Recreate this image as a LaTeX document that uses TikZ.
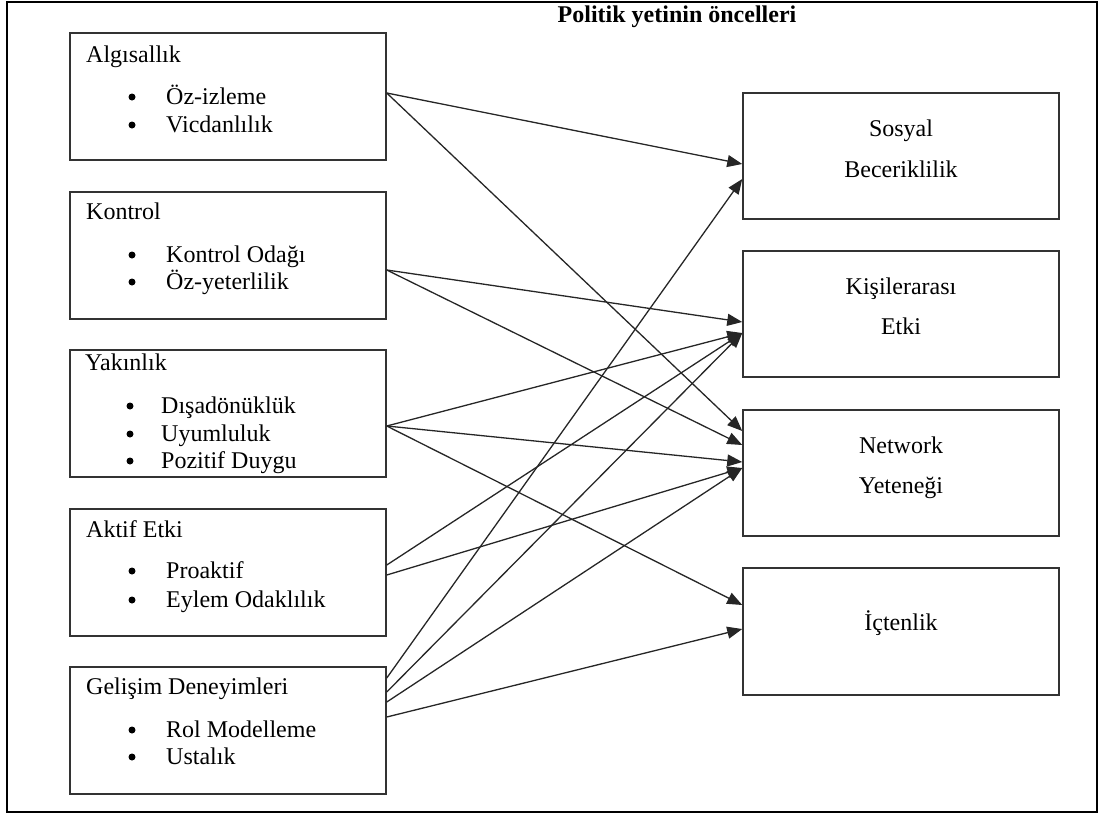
\documentclass[tikz,border=0pt]{standalone}
\usepackage{fontspec}
\setmainfont{Liberation Serif}
\usetikzlibrary{arrows.meta}

\begin{document}
\begin{tikzpicture}[x=1pt,y=-1pt,
  kutu/.style={draw=black!80,line width=1.5pt,minimum width=316pt,minimum height=127pt,inner sep=0pt},
  yazi/.style={anchor=base west,inner sep=0pt,font=\fontsize{24}{28}\selectfont},
  orta/.style={anchor=base,inner sep=0pt,font=\fontsize{24}{28}\selectfont},
  nokta/.style={circle,fill=black,inner sep=0pt,minimum size=7pt},
  ok/.style={draw=black!85,line width=1.3pt,-{Triangle[length=15pt,width=12pt]}}]
\useasboundingbox (0,0) rectangle (1099,814);
\draw[line width=2pt] (7,2) rectangle (1097,812);
\node[orta,font=\bfseries\fontsize{24}{28}\selectfont] (baslik) at (677,22) {Politik yetinin öncelleri};
% sol kutular
\node[kutu] (alg) at (228,96.5) {};
\node[kutu] (kon) at (228,255.5) {};
\node[kutu] (yak) at (228,413.5) {};
\node[kutu] (akt) at (228,572.5) {};
\node[kutu] (gel) at (228,730.5) {};
\node[yazi] (alg-h) at (86,62) {Algısallık};
\node[nokta] (alg-b1) at (132,97) {};
\node[nokta] (alg-b2) at (132,125) {};
\node[yazi] (alg-1) at (166,104) {Öz-izleme};
\node[yazi] (alg-2) at (166,132) {Vicdanlılık};
\node[yazi] (kon-h) at (86,219) {Kontrol};
\node[nokta] (kon-b1) at (132,255) {};
\node[nokta] (kon-b2) at (132,282) {};
\node[yazi] (kon-1) at (166,262) {Kontrol Odağı};
\node[yazi] (kon-2) at (166,289) {Öz-yeterlilik};
\node[yazi] (yak-h) at (85,370) {Yakınlık};
\node[nokta] (yak-b1) at (130,406) {};
\node[nokta] (yak-b2) at (130,434) {};
\node[nokta] (yak-b3) at (130,461) {};
\node[yazi] (yak-1) at (161,413) {Dışadönüklük};
\node[yazi] (yak-2) at (161,441) {Uyumluluk};
\node[yazi] (yak-3) at (161,468) {Pozitif Duygu};
\node[yazi] (akt-h) at (86,537) {Aktif Etki};
\node[nokta] (akt-b1) at (132,571) {};
\node[nokta] (akt-b2) at (132,600) {};
\node[yazi] (akt-1) at (166,578) {Proaktif};
\node[yazi] (akt-2) at (166,607) {Eylem Odaklılık};
\node[yazi] (gel-h) at (86,694) {Gelişim Deneyimleri};
\node[nokta] (gel-b1) at (132,730) {};
\node[nokta] (gel-b2) at (132,757) {};
\node[yazi] (gel-1) at (166,737) {Rol Modelleme};
\node[yazi] (gel-2) at (166,764) {Ustalık};
% sag kutular
\node[kutu,minimum height=126pt] (sos) at (901,156) {};
\node[kutu,minimum height=126pt] (kis) at (901,314) {};
\node[kutu,minimum height=126pt] (net) at (901,473) {};
\node[kutu,minimum height=127pt] (ict) at (901,631.5) {};
\node[orta] (sos-1) at (901,136) {Sosyal};
\node[orta] (sos-2) at (901,177) {Beceriklilik};
\node[orta] (kis-1) at (901,294) {Kişilerarası};
\node[orta] (kis-2) at (901,334) {Etki};
\node[orta] (net-1) at (901,453) {Network};
\node[orta] (net-2) at (901,493) {Yeteneği};
\node[orta] (ict-1) at (901,630) {İçtenlik};
% oklar
\draw[ok] ([yshift=3.5pt]alg.east) -- ([yshift=-8pt]sos.west);
\draw[ok] ([yshift=3.5pt]alg.east) -- ([yshift=42pt]net.west);
\draw[ok] ([yshift=-14.5pt]kon.east) -- ([yshift=-8pt]kis.west);
\draw[ok] ([yshift=-14.5pt]kon.east) -- ([yshift=28pt]net.west);
\draw[ok] ([yshift=-12.5pt]yak.east) -- ([yshift=-19pt]kis.west);
\draw[ok] ([yshift=-12.5pt]yak.east) -- ([yshift=11pt]net.west);
\draw[ok] ([yshift=-12.5pt]yak.east) -- ([yshift=26.5pt]ict.west);
\draw[ok] ([yshift=7.5pt]akt.east) -- ([yshift=-19pt]kis.west);
\draw[ok] ([yshift=-2.5pt]akt.east) -- ([yshift=5pt]net.west);
\draw[ok] ([yshift=52.5pt]gel.east) -- ([yshift=-23pt]sos.west);
\draw[ok] ([yshift=38.5pt]gel.east) -- ([yshift=-19pt]kis.west);
\draw[ok] ([yshift=28.5pt]gel.east) -- ([yshift=5pt]net.west);
\draw[ok] ([yshift=13.5pt]gel.east) -- ([yshift=2.5pt]ict.west);
\end{tikzpicture}
\end{document}
